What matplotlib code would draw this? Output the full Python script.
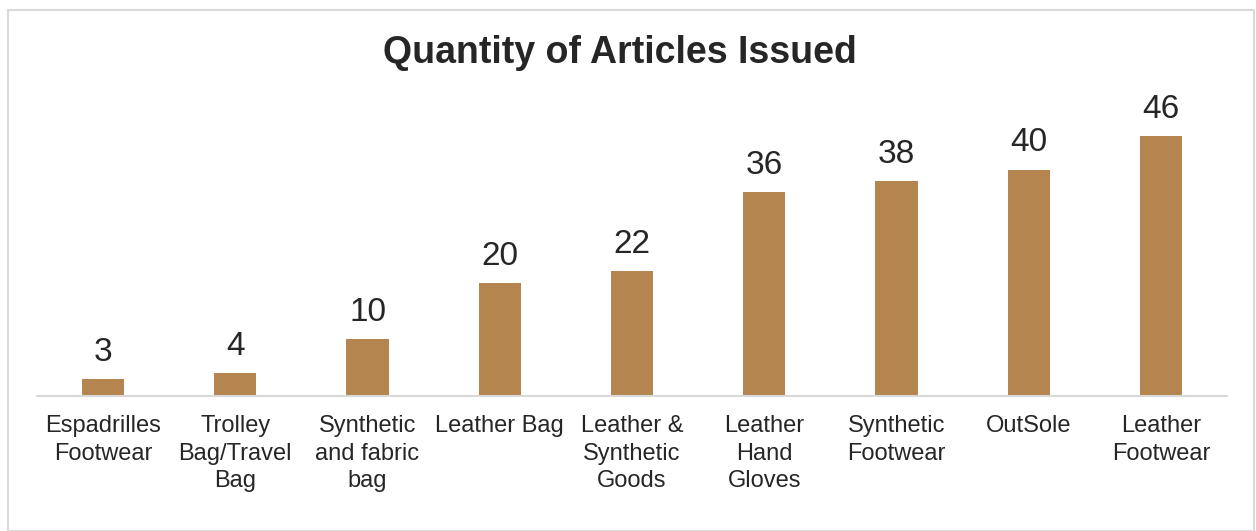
import matplotlib
matplotlib.use("Agg")
import matplotlib.pyplot as plt
from matplotlib.patches import Rectangle

categories = ["Espadrilles\nFootwear", "Trolley\nBag/Travel\nBag", "Synthetic\nand fabric\nbag",
              "Leather Bag", "Leather &\nSynthetic\nGoods", "Leather\nHand\nGloves",
              "Synthetic\nFootwear", "OutSole", "Leather\nFootwear"]
values = [3, 4, 10, 20, 22, 36, 38, 40, 46]

plt.rcParams['font.family'] = ['Liberation Sans', 'DejaVu Sans']
W, H = 1256, 531
fig = plt.figure(figsize=(W/100, H/100), dpi=100)
fig.patches.append(Rectangle((8/W, 0), (1254-8)/W, (H-10)/H, transform=fig.transFigure,
                             fill=False, edgecolor='#d9d9d9', linewidth=1.5))
ax = fig.add_axes([37/W, (H-396)/H, (1227-37)/W, (396-113)/H])
x = list(range(len(values)))
bars = ax.bar(x, values, width=0.32, color='#b58550')
ax.set_xlim(-0.5, len(values)-0.5)
ax.set_ylim(0, 50)
for b, v in zip(bars, values):
    ax.annotate(str(v), (b.get_x()+b.get_width()/2, v), xytext=(0, 8), textcoords='offset points',
                ha='center', va='bottom', fontsize=24, color='#262626')
ax.set_xticks(x)
ax.set_xticklabels(categories, fontsize=17, color='#262626', linespacing=1.32, va='top')
ax.tick_params(axis='x', length=0, pad=14)
ax.set_yticks([])
for s in ['top', 'right', 'left']:
    ax.spines[s].set_visible(False)
ax.spines['bottom'].set_color('#d9d9d9')
ax.spines['bottom'].set_linewidth(1.5)
fig.text(620/W, 1-53/H, "Quantity of Articles Issued", ha='center', va='center',
         fontsize=27, fontweight='bold', color='#262626')
fig.savefig("out.png", dpi=100)
